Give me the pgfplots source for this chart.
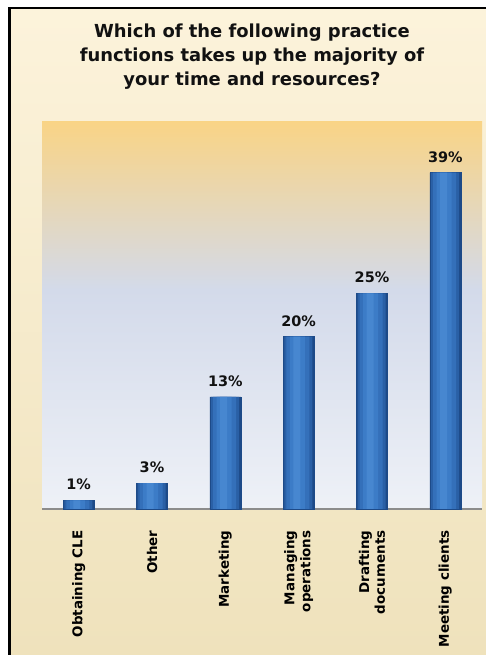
\documentclass[border=0pt]{standalone}
\usepackage{pgfplots}
\pgfplotsset{compat=1.18}
\usepackage{fontspec}
\setmainfont{DejaVu Sans}
\definecolor{creamtop}{HTML}{FCF3DB}
\definecolor{creambot}{HTML}{EFE2BC}
\definecolor{gold}{HTML}{F9D486}
\definecolor{midblue}{HTML}{D3DAEA}
\definecolor{lowblue}{HTML}{EEF1F7}
\definecolor{titlecol}{HTML}{111111}
\definecolor{bar1}{HTML}{1D4A88}
\definecolor{bar2}{HTML}{2A60A6}
\definecolor{bar3}{HTML}{3470BA}
\definecolor{bar4}{HTML}{3C7CC7}
\definecolor{bar5}{HTML}{4787D0}
\definecolor{axisgray}{HTML}{8C8C8C}
\pgfplotstableread{
x y
0 1
1 3
2 13
3 20
4 25
5 39
}\datatab
\begin{document}
\begin{tikzpicture}[x=1bp,y=1bp]
\useasboundingbox (0,0) rectangle (486,655);
\fill[white] (0,0) rectangle (486,655);
\shade[top color=creamtop, bottom color=creambot] (9,0) rectangle (486,646);
\shade[top color=gold, bottom color=midblue] (42,365) rectangle (482,533);
\shade[top color=midblue, bottom color=lowblue] (42,146) rectangle (482,365.5);
\draw[black, line width=2.5bp] (9.25,0) -- (9.25,646.75) -- (486,646.75);
\node[anchor=north, align=center, font=\fontsize{18}{24}\selectfont\bfseries, text=titlecol, inner sep=0pt] at (252,631)
  {Which of the following practice\\functions takes up the majority of\\your time and resources?};
\begin{axis}[
  at={(42bp,146bp)}, anchor=south west,
  scale only axis, width=440bp, height=387bp,
  xmin=-0.5, xmax=5.5, ymin=0, ymax=44.88,
  enlargelimits=false, clip=false,
  ybar,
  axis x line*=bottom, axis y line=none,
  x axis line style={-, draw=axisgray, line width=1.2bp},
  xtick={0,1,2,3,4,5},
  xticklabels={Obtaining CLE, Other, Marketing, Managing\\operations, Drafting\\documents, Meeting clients},
  xtick style={draw=none}, ytick=\empty,
  xticklabel style={rotate=90, anchor=east, align=right, font=\fontsize{13.5}{16}\selectfont\bfseries, inner sep=0pt, text=black},
  xticklabel shift=17bp,
]
\addplot[fill=bar1, draw=bar1, line width=0.5bp, bar width=31bp, bar shift=0pt,
  nodes near coords, point meta=explicit symbolic,
  every node near coord/.append style={anchor=base, inner sep=0pt, yshift=10.5bp, font=\fontsize{14.5}{16}\selectfont\bfseries, text=titlecol}]
  coordinates {(0,1)[1\%] (1,3)[3\%] (2,13)[13\%] (3,20)[20\%] (4,25)[25\%] (5,39)[39\%]};
\addplot[fill=bar2, draw=none, bar width=28bp, bar shift=-0.3bp] table[x=x,y=y] {\datatab};
\addplot[fill=bar3, draw=none, bar width=23bp, bar shift=-0.8bp] table[x=x,y=y] {\datatab};
\addplot[fill=bar4, draw=none, bar width=15bp, bar shift=-1.3bp] table[x=x,y=y] {\datatab};
\addplot[fill=bar5, draw=none, bar width=7bp, bar shift=-1.8bp] table[x=x,y=y] {\datatab};
\end{axis}
\end{tikzpicture}
\end{document}
